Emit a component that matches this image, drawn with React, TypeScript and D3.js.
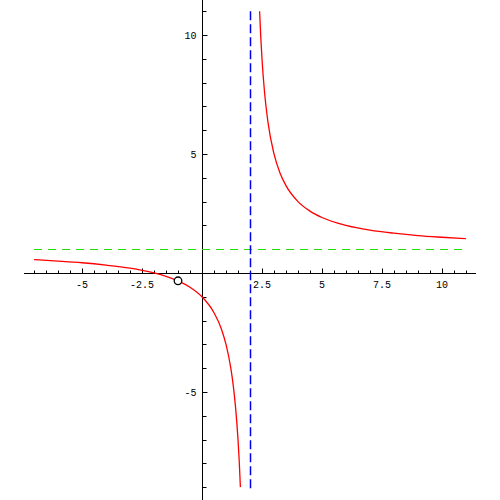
import React from 'react'
import * as d3 from 'd3'

// left branch (x < 2) and right branch (x > 2)
const leftX = [-7, -6, -5, -4, -3, -2.5, -2, -1.5, -1, -0.5, 0, 0.5, 0.8, 1, 1.2, 1.3, 1.4, 1.5, 1.55, 1.6]
const leftY = [0.56, 0.5, 0.43, 0.33, 0.2, 0.11, 0, -0.14, -0.33, -0.6, -1, -1.67, -2.33, -3, -4, -4.71, -5.67, -7, -7.89, -9]
const rightX = [2.4, 2.45, 2.5, 2.6, 2.75, 3, 3.25, 3.5, 4, 4.5, 5, 6, 7, 8, 9, 10, 11]
const rightY = [11, 9.9, 9, 7.67, 6.33, 5, 4.2, 3.67, 3, 2.6, 2.33, 2, 1.8, 1.67, 1.57, 1.5, 1.44]
const hole = { x: -1, y: -0.33 }
const vAsym = 2
const hAsym = 1
const xTickLabels = [-5, -2.5, 2.5, 5, 7.5, 10]
const yTickLabels = [-5, 5, 10]

const W = 500
const H = 500
const font = '"Liberation Mono", "DejaVu Sans Mono", monospace'

export default function App() {
  const x = d3.scaleLinear().domain([-7.42, 11.42]).range([24, 476])
  const y = d3.scaleLinear().domain([-9.54, 11.47]).range([H, 0])

  const line = d3
    .line<[number, number]>()
    .x((d) => x(d[0]))
    .y((d) => y(d[1]))
    .curve(d3.curveMonotoneX)

  const left = leftX.map((v, i) => [v, leftY[i]] as [number, number])
  const right = rightX.map((v, i) => [v, rightY[i]] as [number, number])

  const x0 = Math.round(x(0)) + 0.5
  const y0 = Math.round(y(0)) + 0.5

  const xMinor = d3.range(-7, 11.01, 0.5).filter((v) => v !== 0)
  const yMinor = d3.range(-9, 11.01, 1).filter((v) => v !== 0)

  return (
    <svg width={W} height={H} style={{ position: 'absolute', left: 0, top: 0, background: '#fff' }}>
      {/* axes */}
      <line x1={x.range()[0]} x2={x.range()[1]} y1={y0} y2={y0} stroke="#000" />
      <line x1={x0} x2={x0} y1={0} y2={H} stroke="#000" />
      {xMinor.map((v) => {
        const major = v % 2.5 === 0
        return (
          <line
            key={'xt' + v}
            x1={Math.round(x(v)) + 0.5}
            x2={Math.round(x(v)) + 0.5}
            y1={y0}
            y2={y0 - (major ? 5 : 3)}
            stroke="#000"
          />
        )
      })}
      {yMinor.map((v) => {
        const major = v % 5 === 0
        return (
          <line
            key={'yt' + v}
            x1={x0}
            x2={x0 + (major ? 5 : 4)}
            y1={Math.round(y(v)) + 0.5}
            y2={Math.round(y(v)) + 0.5}
            stroke="#000"
          />
        )
      })}
      {xTickLabels.map((v) => (
        <text
          key={'xl' + v}
          x={x(v)}
          y={y0 + 14}
          textAnchor="middle"
          fontFamily={font}
          fontSize={10}
          fill="#000"
        >
          {String(v)}
        </text>
      ))}
      {yTickLabels.map((v) => (
        <text
          key={'yl' + v}
          x={x0 - 6}
          y={y(v) + 4}
          textAnchor="end"
          fontFamily={font}
          fontSize={10}
          fill="#000"
        >
          {String(v)}
        </text>
      ))}

      {/* asymptotes */}
      <line
        x1={x(-7)}
        x2={x(10.9)}
        y1={Math.round(y(hAsym)) + 0.5}
        y2={Math.round(y(hAsym)) + 0.5}
        stroke="#22dd00"
        strokeDasharray="8,6"
      />
      <line
        x1={Math.round(x(vAsym)) + 0.5}
        x2={Math.round(x(vAsym)) + 0.5}
        y1={y(11)}
        y2={y(-9.05)}
        stroke="#0000ee"
        strokeWidth={1.5}
        strokeDasharray="9,4"
      />

      {/* function */}
      <path d={line(left) || ''} fill="none" stroke="#ff0000" strokeWidth={1.3} />
      <path d={line(right) || ''} fill="none" stroke="#ff0000" strokeWidth={1.3} />
      <circle cx={x(hole.x)} cy={y(hole.y)} r={3.8} fill="#fff" stroke="#000" strokeWidth={1.3} />
    </svg>
  )
}
